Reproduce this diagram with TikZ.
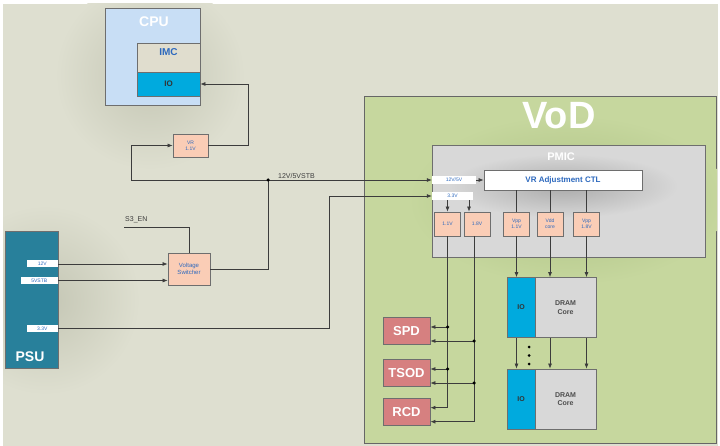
\documentclass[tikz,border=0pt]{standalone}
\usepackage{fontspec}
\setmainfont{Liberation Sans}
\usetikzlibrary{arrows.meta,positioning}

\definecolor{bgbeige}{RGB}{222,223,208}
\definecolor{halo}{RGB}{196,198,180}
\definecolor{cpublue}{RGB}{200,222,245}
\definecolor{imcbeige}{RGB}{224,221,206}
\definecolor{iocyan}{RGB}{0,170,222}
\definecolor{salmon}{RGB}{250,205,182}
\definecolor{psuteal}{RGB}{40,128,155}
\definecolor{vodgreen}{RGB}{198,215,158}
\definecolor{vodhalo}{RGB}{172,192,130}
\definecolor{pmicgray}{RGB}{216,216,216}
\definecolor{pmichalo}{RGB}{170,170,170}
\definecolor{sensred}{RGB}{214,128,128}
\definecolor{txtblue}{RGB}{45,105,190}
\definecolor{boxline}{RGB}{110,110,110}
\definecolor{wiregray}{RGB}{60,60,60}

\begin{document}
\begin{tikzpicture}[x=1pt, y=-1pt,
    box/.style={draw=boxline, line width=0.8pt, inner sep=0pt, align=center},
    regbox/.style={box, fill=salmon, text=txtblue, font=\fontsize{5}{6}\selectfont},
    tag/.style={fill=white, inner sep=0pt, text=txtblue, font=\fontsize{5}{6}\selectfont},
    title/.style={text=white, font=\fontsize{14}{15}\selectfont\bfseries},
    chip/.style={box, fill=sensred, text=white, minimum width=47pt, minimum height=27pt,
                 font=\fontsize{13}{14}\selectfont\bfseries},
    lbl/.style={text=wiregray, inner sep=1pt, font=\fontsize{7}{8}\selectfont},
    wire/.style={draw=wiregray, line width=0.7pt},
    feed/.style={wire, -{Latex[length=5pt,width=4pt]}},
    dot/.style={circle, fill=black, inner sep=0pt, minimum size=3.5pt}
  ]
  \useasboundingbox (0,0) rectangle (720,446);

  % Pozadi a stiny
  \fill[white] (0,0) rectangle (720,446);
  \fill[bgbeige] (3,4) rectangle (718,446);
  \begin{scope}
    \clip (3,4) rectangle (718,446);
    \shade[inner color=halo, outer color=bgbeige] (150,75) circle (95);
    \shade[inner color=halo, outer color=bgbeige] (45,300) circle (95);
  \end{scope}

  % CPU
  \node[box, fill=cpublue, minimum width=95pt, minimum height=97pt] (cpu) at (152.5,56.5) {};
  \node[title] (cputitle) at (154,22) {CPU};
  \node[box, fill=imcbeige, minimum width=63pt, minimum height=29pt] (imc) at (168.5,57.5) {};
  \node[text=txtblue, font=\fontsize{10}{11}\selectfont\bfseries] (imctext) at (168.5,52.5) {IMC};
  \node[box, fill=iocyan, text=black!80, minimum width=63pt, minimum height=24pt,
        font=\fontsize{8}{9}\selectfont\bfseries] (cpuio) at (168.5,84) {IO};

  % Regulator a prepinac
  \node[regbox, minimum width=35pt, minimum height=23pt] (vr) at (190.5,145.5) {VR\\1.1V};
  \node[regbox, minimum width=42pt, minimum height=32pt,
        font=\fontsize{6}{7}\selectfont] (vsw) at (189,269) {Voltage\\Switcher};

  % PSU
  \node[box, fill=psuteal, minimum width=53pt, minimum height=137pt] (psu) at (31.5,299.5) {};
  \node[title] (psutitle) at (30,357) {PSU};
  \node[tag, anchor=east, minimum width=31pt, minimum height=7pt] (p12) at (58,264) {12V};
  \node[tag, anchor=east, minimum width=37pt, minimum height=7pt] (p5) at (58,280.5) {5VSTB};
  \node[tag, anchor=east, minimum width=31pt, minimum height=7pt] (p33) at (58,328.5) {3.3V};

  % VoD
  \node[box, draw=black!60, fill=vodgreen, minimum width=352pt, minimum height=347pt] (vod) at (540,269.5) {};
  \begin{scope}
    \clip (vod.north west) rectangle (vod.south east);
    \shade[inner color=vodhalo, outer color=vodgreen] (568,200) ellipse (160 and 85);
  \end{scope}
  \node[text=white, font=\fontsize{38}{40}\selectfont\bfseries] (vodtitle) at (559,116) {VoD};

  % PMIC
  \node[box, fill=pmicgray, minimum width=273pt, minimum height=112pt] (pmic) at (568.5,201) {};
  \shade[inner color=pmichalo, outer color=pmicgray] (563,186) ellipse (115 and 32);
  \node[text=white, font=\fontsize{11}{12}\selectfont\bfseries] (pmictitle) at (561,157) {PMIC};
  \node[box, fill=white, text=txtblue, minimum width=158pt, minimum height=20pt,
        font=\fontsize{8}{9}\selectfont\bfseries] (vradj) at (563,180) {VR Adjustment CTL};
  \node[tag, minimum width=44pt, minimum height=8pt] (in12) at (454,180) {12V/5V};
  \node[tag, minimum width=41pt, minimum height=8pt] (in33) at (452.5,196) {3.3V};
  \foreach \n/\x/\t in {r11/447.5/1.1V, r18/477/1.8V, vpp11/516.5/{Vpp\\1.1V},
                        vdd/550/{Vdd\\core}, vpp18/586.5/{Vpp\\1.8V}}
    \node[regbox, minimum width=26pt, minimum height=24pt] (\n) at (\x,224) {\t};

  % DRAM
  \foreach \i/\y in {1/307.5, 2/399} {
    \node[box, fill=iocyan, text=black!80, minimum width=28pt, minimum height=60pt,
          font=\fontsize{7}{8}\selectfont\bfseries] (dio\i) at (521,\y) {IO};
    \node[box, fill=pmicgray, text=black!70, minimum width=61pt, minimum height=60pt,
          font=\fontsize{7}{8.5}\selectfont\bfseries] (dcore\i) at (565.5,\y) {DRAM\\Core};
  }
  \foreach \y in {347,355.5,364}
    \fill[black] (529,\y) circle (1.5);

  % SPD, TSOD, RCD
  \foreach \n/\t/\y in {spd/SPD/331, tsod/TSOD/373, rcd/RCD/411.7} {
    \node[chip] (\n) at (406.5,\y) {\t};
    \coordinate (\n-hi) at ([yshift=4pt]\n.east);
    \coordinate (\n-lo) at ([yshift=-10pt]\n.east);
  }

  % Vedeni vlevo
  \draw[feed] (p12.east) -- (vsw.west |- p12.east);
  \draw[feed] (p5.east) -- (vsw.west |- p5.east);
  \coordinate (s3) at (124,227);
  \draw[wire] (s3) -| (vsw.north);
  \node[lbl, anchor=south west] (s3en) at ([yshift=3pt]s3) {S3\_EN};
  \coordinate (j) at (268,180);
  \draw[wire] (vsw.east) -| (j);
  \draw[feed] (j) -- (in12.west);
  \draw[feed] (j) -| ([xshift=-41pt]vr.west) -- (vr.west);
  \node[dot] at (j) {};
  \node[lbl, anchor=south west] (railtxt) at ([xshift=9pt]j) {12V/5VSTB};
  \draw[feed] (vr.east) -- ++(40,0) |- (cpuio.east);
  \draw[feed] (p33.east) -| ([xshift=-102pt]in33.west) -- (in33.west);

  % Vedeni v PMIC
  \draw[feed] (in12.east) -- (vradj.west);
  \draw[feed] (in33.south -| r11) -- (r11.north);
  \draw[feed] ([xshift=-8pt]r18.north |- in33.south) -- ([xshift=-8pt]r18.north);
  \foreach \n in {vpp11,vdd,vpp18} {
    \draw[wire] (vradj.south -| \n) -- (\n.north);
    \draw[feed] (\n.south) -- (\n.south |- dio1.north);
    \draw[feed] (\n.south |- dio1.south) -- (\n.south |- dio2.north);
  }

  % Napajeni SPD, TSOD, RCD
  \coordinate (r18b) at ([xshift=-3pt]r18.south);
  \draw[wire] (r11.south) -- (r11.south |- rcd-hi);
  \draw[wire] (r18b) -- (r18b |- rcd-lo);
  \foreach \n in {spd,tsod,rcd} {
    \draw[feed] (r11.south |- \n-hi) -- (\n-hi);
    \draw[feed] (r18b |- \n-lo) -- (\n-lo);
  }
  \foreach \n in {spd,tsod} {
    \node[dot] at (r11.south |- \n-hi) {};
    \node[dot] at (r18b |- \n-lo) {};
  }
\end{tikzpicture}
\end{document}
